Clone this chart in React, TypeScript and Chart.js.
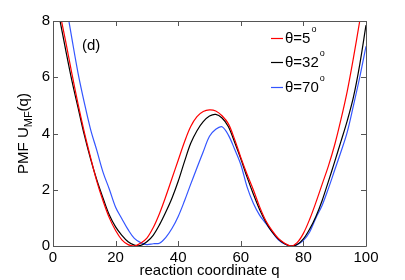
import React, { useEffect, useRef } from "react";
import { Chart, registerables } from "chart.js";

Chart.register(...registerables);

const qValues = [0, 2, 4, 6, 8, 10, 12, 14, 16, 18, 20, 22, 24, 26, 28, 30, 32, 34, 36, 38, 40, 42, 44, 46, 48, 50, 52, 54, 56, 58, 60, 62, 64, 66, 68, 70, 72, 74, 76, 78, 80, 82, 84, 86, 88, 90, 92, 94, 96, 98, 100];

const pmf5 = [9.6, 8.4, 7.3, 6.15, 5.05, 4.05, 3.15, 2.3, 1.6, 1.0, 0.55, 0.22, 0.05, 0.0, 0.1, 0.28, 0.65, 1.15, 1.75, 2.4, 3.05, 3.7, 4.25, 4.6, 4.78, 4.84, 4.8, 4.63, 4.35, 3.8, 3.15, 2.55, 2.0, 1.4, 0.9, 0.55, 0.27, 0.1, 0.0, 0.12, 0.45, 0.95, 1.55, 2.2, 2.85, 3.6, 4.5, 5.5, 6.7, 8.0, 9.3];

const pmf32 = [9.3, 8.15, 7.0, 5.9, 4.92, 3.95, 3.1, 2.35, 1.7, 1.1, 0.68, 0.38, 0.15, 0.03, 0.02, 0.15, 0.38, 0.75, 1.2, 1.7, 2.3, 3.0, 3.65, 4.1, 4.42, 4.62, 4.68, 4.55, 4.25, 3.7, 3.1, 2.45, 1.85, 1.3, 0.85, 0.5, 0.25, 0.08, 0.0, 0.05, 0.25, 0.6, 1.05, 1.62, 2.3, 3.0, 3.72, 4.45, 5.3, 6.45, 7.85];

const pmf70 = [11.3, 10.0, 8.7, 7.4, 6.15, 5.1, 4.15, 3.4, 2.62, 2.02, 1.38, 0.97, 0.58, 0.27, 0.12, 0.05, 0.08, 0.1, 0.3, 0.62, 1.05, 1.6, 2.2, 2.78, 3.35, 3.9, 4.15, 4.24, 3.95, 3.45, 2.9, 2.1, 1.52, 1.1, 0.8, 0.5, 0.22, 0.07, 0.0, 0.05, 0.2, 0.5, 1.0, 1.45, 2.05, 2.7, 3.35, 4.05, 5.0, 6.0, 7.1];

const seriesLabels = ["θ=5", "θ=32", "θ=70"];
const seriesColors = ["#ff0000", "#000000", "#3355ff"];
const panelLabel = "(d)";
const xTitle = "reaction coordinate q";

const FONT = "Liberation Sans, Arial, Helvetica, sans-serif";

const decorPlugin = {
  id: "decor",
  afterDatasetsDraw(chart: any) {
    const { ctx, chartArea: a, scales } = chart;
    ctx.save();
    // box
    ctx.strokeStyle = "#555555";
    ctx.lineWidth = 1;
    ctx.beginPath();
    ctx.rect(Math.round(a.left) + 0.5, Math.round(a.top) + 0.5, Math.round(a.right - a.left), Math.round(a.bottom - a.top));
    const tl = 5;
    scales.x.ticks.forEach((t: any) => {
      const px = Math.round(scales.x.getPixelForValue(t.value)) + 0.5;
      ctx.moveTo(px, a.bottom);
      ctx.lineTo(px, a.bottom - tl);
      ctx.moveTo(px, a.top);
      ctx.lineTo(px, a.top + tl);
    });
    scales.y.ticks.forEach((t: any) => {
      const py = Math.round(scales.y.getPixelForValue(t.value)) + 0.5;
      ctx.moveTo(a.left, py);
      ctx.lineTo(a.left + tl, py);
      ctx.moveTo(a.right, py);
      ctx.lineTo(a.right - tl, py);
    });
    ctx.stroke();

    // panel label
    ctx.fillStyle = "#000";
    ctx.font = `15px ${FONT}`;
    ctx.textAlign = "left";
    ctx.textBaseline = "middle";
    ctx.fillText(panelLabel, 82, 46);

    // legend
    const rows = [38, 62, 87];
    chart.data.datasets.forEach((ds: any, i: number) => {
      const y = rows[i];
      ctx.strokeStyle = ds.borderColor;
      ctx.lineWidth = 1.2;
      ctx.beginPath();
      ctx.moveTo(271, y + 0.5);
      ctx.lineTo(283, y + 0.5);
      ctx.stroke();
      ctx.fillStyle = "#000";
      ctx.font = `15px ${FONT}`;
      ctx.textAlign = "left";
      ctx.textBaseline = "middle";
      ctx.fillText(ds.label, 285, y + 1);
      const w = ctx.measureText(ds.label).width;
      ctx.font = `9px ${FONT}`;
      ctx.fillText("o", 285 + w + 1, y - 8);
    });

    // x title
    ctx.fillStyle = "#000";
    ctx.font = `15px ${FONT}`;
    ctx.textAlign = "center";
    ctx.textBaseline = "middle";
    ctx.fillText(xTitle, (a.left + a.right) / 2, 271);

    // y title with subscript
    const main1 = "PMF U";
    const sub = "MF";
    const main2 = "(q)";
    ctx.font = `15px ${FONT}`;
    const w1 = ctx.measureText(main1).width;
    const w3 = ctx.measureText(main2).width;
    ctx.font = `11px ${FONT}`;
    const w2 = ctx.measureText(sub).width;
    const total = w1 + w2 + w3;
    ctx.translate(24, (a.top + a.bottom) / 2);
    ctx.rotate(-Math.PI / 2);
    ctx.textAlign = "left";
    ctx.textBaseline = "middle";
    const x0 = -total / 2;
    ctx.font = `15px ${FONT}`;
    ctx.fillText(main1, x0, 0);
    ctx.font = `11px ${FONT}`;
    ctx.fillText(sub, x0 + w1, 5);
    ctx.font = `15px ${FONT}`;
    ctx.fillText(main2, x0 + w1 + w2, 0);
    ctx.restore();
  },
};

export default function App() {
  const ref = useRef<HTMLCanvasElement | null>(null);
  useEffect(() => {
    if (!ref.current) return;
    const mk = (vals: number[]) => qValues.map((q, i) => ({ x: q, y: vals[i] }));
    const all = [pmf5, pmf32, pmf70];
    const chart = new Chart(ref.current, {
      type: "line",
      data: {
        datasets: all.map((vals, i) => ({
          label: seriesLabels[i],
          data: mk(vals),
          borderColor: seriesColors[i],
          backgroundColor: seriesColors[i],
          borderWidth: 1.2,
          pointRadius: 0,
          tension: 0.35,
          fill: false,
          clip: 0,
        })),
      },
      options: {
        responsive: false,
        animation: false,
        layout: { padding: { left: 0, right: 39, top: 21, bottom: 0 } },
        plugins: { legend: { display: false }, tooltip: { enabled: false } },
        scales: {
          x: {
            type: "linear",
            min: 0,
            max: 100,
            ticks: { stepSize: 20, color: "#000", font: { size: 15, family: FONT }, padding: 3, maxRotation: 0 },
            grid: { display: false, drawTicks: false },
            border: { display: false },
            afterFit: (s: any) => { s.height = 34; },
          },
          y: {
            min: 0,
            max: 8,
            ticks: { stepSize: 2, color: "#000", font: { size: 15, family: FONT }, padding: 3 },
            grid: { display: false, drawTicks: false },
            border: { display: false },
            afterFit: (s: any) => { s.width = 53; },
          },
        },
      },
      plugins: [decorPlugin],
    });
    return () => chart.destroy();
  }, []);
  return (
    <div style={{ position: "fixed", left: 0, top: 0, width: 405, height: 280, background: "#fff" }}>
      <canvas ref={ref} width={405} height={280} style={{ display: "block", width: 405, height: 280 }} />
    </div>
  );
}
